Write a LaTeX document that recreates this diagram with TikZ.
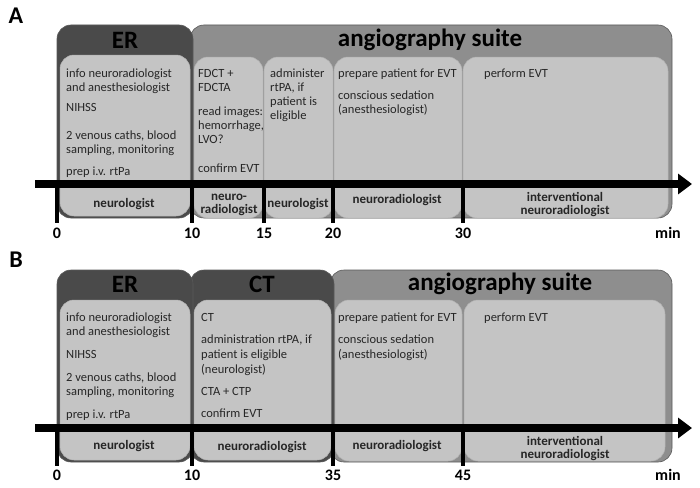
\documentclass[tikz,border=0pt]{standalone}
\usepackage{fontspec}
\setmainfont{Carlito}
\usetikzlibrary{arrows.meta}
\definecolor{dk}{HTML}{4A4A4A}
\definecolor{md}{HTML}{8E8E8E}
\definecolor{lt}{HTML}{C4C4C4}
\begin{document}
\begin{tikzpicture}[x=1pt,y=-1pt,
 outer/.style={rounded corners=14pt,draw=gray!70!black,line width=0.6pt},
 inner/.style={rounded corners=14pt,fill=lt,draw=gray!60,line width=0.5pt},
 ttl/.style={font=\bfseries\fontsize{25}{26}\selectfont,text=black},
 txt/.style={font=\fontsize{12.5}{14}\selectfont,align=left,anchor=north west,inner sep=0pt,text=black!85},
 role/.style={font=\bfseries\fontsize{13}{13}\selectfont,align=center,text=black!85},
 tick/.style={line width=4pt},
 num/.style={font=\bfseries\fontsize{16}{17}\selectfont},
 axis/.style={line width=8pt,-{Triangle[length=14pt,width=20pt]}}]
\useasboundingbox (0,0) rectangle (700,487);
\node[font=\bfseries\fontsize{24}{25}\selectfont] (labA) at (16,16) {A};
\node[font=\bfseries\fontsize{24}{25}\selectfont] (labB) at (16,260) {B};
% ---------- A ----------
\draw[outer,fill=md] (190,25) rectangle (672,218);
\draw[outer,fill=dk] (57,25) rectangle (193,218);
\draw[inner] (60,55) rectangle (190,216);
\draw[inner] (194,57) rectangle (263,218);
\draw[inner] (264,57) rectangle (333,218);
\draw[inner] (334,57) rectangle (462,218);
\draw[inner] (463,57) rectangle (668,218);
\node[ttl] (erA) at (125,40) {ER};
\node[ttl] (anA) at (430,40) {angiography suite};
\node[txt] (t1) at (66,69) {info neuroradiologist\\and anesthesiologist\\[6pt]NIHSS\\[14pt]2 venous caths, blood\\sampling, monitoring\\[8pt]prep i.v. rtPa};
\node[txt] (t2) at (198,69) {FDCT +\\FDCTA\\[10pt]read images:\\hemorrhage,\\LVO?\\[15pt]confirm EVT};
\node[txt] (t3) at (270,69) {administer\\rtPA, if\\patient is\\eligible};
\node[txt] (t4) at (338,69) {prepare patient for EVT\\[8pt]conscious sedation\\(anesthesiologist)};
\node[txt] (t5) at (484,69) {perform EVT};
\coordinate (a0) at (35,184); \coordinate (a1) at (692,184);
\draw[axis] (a0) -- (a1);
\foreach \x/\n in {57/0,192/10,264/15,333/20,463/30}{
 \draw[tick] (\x,184) -- (\x,223);
 \node[num] at (\x,233) {\n};}
\node[num] (minA) at (668,233) {min};
\node[role] (rA1) at (124,204) {neurologist};
\node[role] (rA2) at (229,205) {neuro-\\radiologist};
\node[role] (rA3) at (298,204) {neurologist};
\node[role] (rA4) at (397,200) {neuroradiologist};
\node[role] (rA5) at (565,205) {interventional\\neuroradiologist};
% ---------- B ----------
\draw[outer,fill=md] (330,270) rectangle (672,462);
\draw[outer,fill=dk] (190,270) rectangle (334,462);
\draw[outer,fill=dk] (57,270) rectangle (193,462);
\draw[inner] (60,300) rectangle (190,460);
\draw[inner] (194,300) rectangle (331,460);
\draw[inner] (335,300) rectangle (462,461);
\draw[inner] (464,300) rectangle (665,461);
\node[ttl] (erB) at (125,284) {ER};
\node[ttl] (ctB) at (262,284) {CT};
\node[ttl] (anB) at (500,284) {angiography suite};
\node[txt] (s1) at (66,313) {info neuroradiologist\\and anesthesiologist\\[9pt]NIHSS\\[9pt]2 venous caths, blood\\sampling, monitoring\\[9pt]prep i.v. rtPa};
\node[txt,font=\fontsize{12.5}{15}\selectfont] (s2) at (201,313) {CT\\[7pt]administration rtPA, if\\patient is eligible\\(neurologist)\\[7pt]CTA + CTP\\[7pt]confirm EVT};
\node[txt,font=\fontsize{12.5}{15}\selectfont] (s3) at (338,313) {prepare patient for EVT\\[7pt]conscious sedation\\(anesthesiologist)};
\node[txt] (s4) at (484,313) {perform EVT};
\coordinate (b0) at (35,428); \coordinate (b1) at (692,428);
\draw[axis] (b0) -- (b1);
\foreach \x/\n in {57/0,192/10,333/35,463/45}{
 \draw[tick] (\x,428) -- (\x,466);
 \node[num] at (\x,475) {\n};}
\node[num] (minB) at (668,475) {min};
\node[role] (rB1) at (124,446) {neurologist};
\node[role] (rB2) at (262,447) {neuroradiologist};
\node[role] (rB3) at (397,446) {neuroradiologist};
\node[role] (rB4) at (565,449) {interventional\\neuroradiologist};
\end{tikzpicture}
\end{document}
